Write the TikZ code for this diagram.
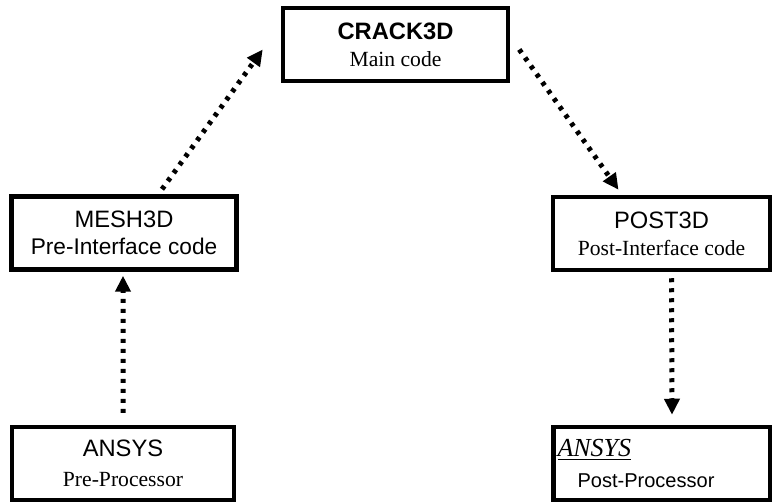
\documentclass[tikz,border=0pt]{standalone}
\usepackage{fontspec}
\setmainfont{Liberation Serif}
\setsansfont{Liberation Sans}
\usetikzlibrary{arrows.meta}
\newcommand{\titlefont}{\sffamily\fontsize{13.5}{15}\selectfont}

\begin{document}
\begin{tikzpicture}[
    modbox/.style={draw,line width=0.09cm,minimum width=4.5cm,minimum height=1.46cm,
      inner sep=0pt,align=center,font=\fontsize{12.3}{15.5}\selectfont},
    flow/.style={line width=0.1cm,dash pattern=on 0.08cm off 0.12cm,
      -{Triangle[length=0.32cm,width=0.3cm]}}]
    \useasboundingbox (0,0) rectangle (15.44,10.04);

    \node[modbox] (crack) at (7.91,9.15) {{\titlefont\bfseries CRACK3D}\\Main code};
    \node[modbox] (mesh) at (2.48,5.38) {{\titlefont MESH3D}\\\sffamily\fontsize{12.9}{15.5}\selectfont Pre-Interface code};
    \node[modbox,minimum width=4.34cm] (post) at (13.23,5.37) {{\titlefont POST3D}\\Post-Interface code};
    \node[modbox,minimum width=4.44cm,font=\fontsize{12.3}{17}\selectfont] (ansysL) at (2.46,0.77) {{\titlefont ANSYS}\\Pre-Processor};
    \node[modbox,minimum width=4.34cm,text width=4.18cm,inner xsep=0.08cm,align=left,
      font=\fontsize{12.3}{18}\selectfont] (ansysR) at (13.24,0.77)
      {{\fontsize{14.8}{18}\selectfont\underline{\textit{ANSYS}}}\\\hspace*{0.4cm}\sffamily\fontsize{11.4}{18}\selectfont Post-Processor};

    \draw[flow] ([shift={(0,0.24)}]ansysL.north) -- ([shift={(-0.02,-0.08)}]mesh.south);
    \draw[flow] ([shift={(0.76,0.1)}]mesh.north) -- ([shift={(-0.36,-0.1)}]crack.west);
    \draw[flow] ([shift={(0.18,-0.1)}]crack.east) -- ([shift={(-0.86,0.1)}]post.north);
    \draw[flow] ([shift={(0.2,-0.12)}]post.south) -- ([shift={(0.2,0.2)}]ansysR.north);
  \end{tikzpicture}
\end{document}
